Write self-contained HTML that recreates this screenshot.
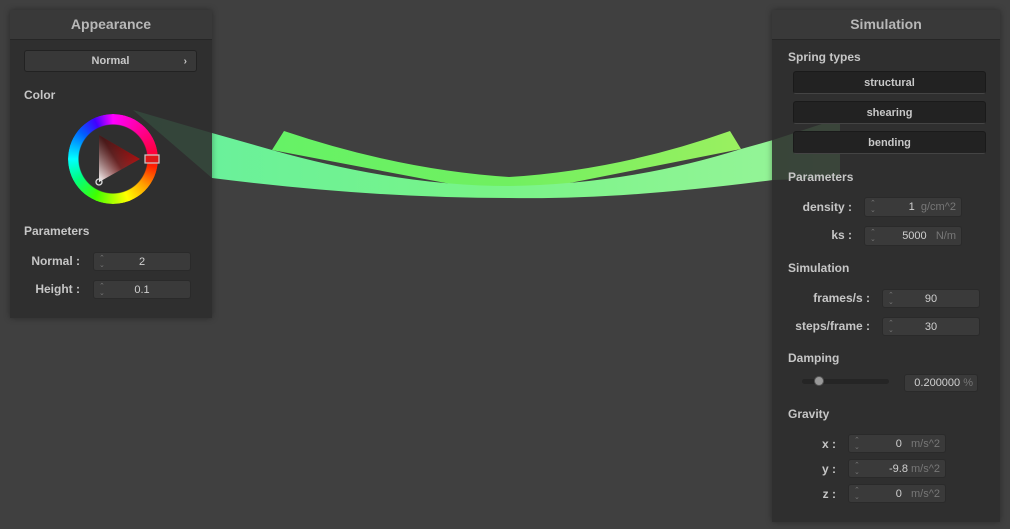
<!DOCTYPE html>
<html><head><meta charset="utf-8"><style>
body{margin:0;width:1010px;height:529px;background:#404040;overflow:hidden;position:relative;font-family:"Liberation Sans",sans-serif;font-weight:bold;color:#c8c8c8}
.panel{position:absolute;background:rgba(44,44,44,0.88);box-shadow:0 0 6px rgba(0,0,0,0.35)}
.hdr{position:absolute;left:0;right:0;top:0;height:29px;background:rgba(58,58,58,0.95);border-bottom:1px solid #262626;text-align:center;line-height:29px;font-size:14px;color:#b8b8b8;font-weight:bold}
.sec{position:absolute;font-size:12px;color:#c6c6c6}
.lbl{position:absolute;font-size:12px;text-align:right;color:#c6c6c6}
.inp{position:absolute;background:#3a3a3a;border:1px solid #2a2a2a;border-radius:3px;font-size:11px;font-weight:normal;color:#d0d0d0;box-sizing:border-box}
.inp .sp{position:absolute;left:5px;top:2px;font-size:7px;color:#777;line-height:7px}
.inp .v{position:absolute;top:0;bottom:0;display:flex;align-items:center}
.inp .u{color:#777}
.btn{position:absolute;background:#222;border:1px solid #1a1a1a;border-bottom-color:#444;border-radius:3px;text-align:center;font-size:11px;color:#c8c8c8;box-sizing:border-box}
</style></head><body>
<svg width="1010" height="529" style="position:absolute;left:0;top:0">
<defs>
<linearGradient id="gb" x1="0" x2="1" y1="0" y2="0"><stop offset="0" stop-color="#66f266"/><stop offset="0.5" stop-color="#70f060"/><stop offset="1" stop-color="#9af060"/></linearGradient>
<linearGradient id="gf" x1="0" x2="1" y1="0" y2="0"><stop offset="0" stop-color="#66f0a0"/><stop offset="0.5" stop-color="#78f488"/><stop offset="1" stop-color="#9af49a"/></linearGradient>
</defs>
<path d="M284,131 Q400,170 509,177 Q620,170 730,131 L741,149 L509,195 L272,150 Z" fill="url(#gb)"/>
<path d="M133,110 L212,133 L272,150 Q400,186 509,186 Q630,184 741,149 L773,140 L840,118 L840,178 L773,180 Q620,200 509,198 Q370,198 212,178 Z" fill="url(#gf)"/>
</svg>

<div class="panel" style="left:10px;top:10px;width:202px;height:308px">
<div class="hdr">Appearance</div>
<div class="btn" style="left:14px;top:40px;width:173px;height:22px;line-height:21px;background:#383838;border-color:#222">Normal<span style="position:absolute;right:9px;font-size:10px">›</span></div>
<div class="sec" style="left:14px;top:78px">Color</div>
<div style="position:absolute;left:58px;top:104px;width:90px;height:90px;border-radius:50%;background:conic-gradient(#ff00ff 0deg,#ff0040 80deg,#ff2000 100deg,#ffa000 130deg,#ffff00 160deg,#40ff00 205deg,#00ff80 240deg,#00ffff 270deg,#0060ff 310deg,#4000ff 335deg,#ff00ff 360deg);-webkit-mask:radial-gradient(circle,transparent 34px,#000 35px);mask:radial-gradient(circle,transparent 34px,#000 35px)"></div>
<svg style="position:absolute;left:0;top:0" width="202" height="308">
<defs><linearGradient id="tri" x1="0" y1="1" x2="1" y2="0.3"><stop offset="0" stop-color="#fff"/><stop offset="0.5" stop-color="#8a3030"/><stop offset="1" stop-color="#ff1010"/></linearGradient>
<linearGradient id="tri2" x1="0" y1="0" x2="0" y2="1"><stop offset="0" stop-color="#000" stop-opacity="0.9"/><stop offset="1" stop-color="#000" stop-opacity="0"/></linearGradient></defs>
<polygon points="89,125 130,149 89,172" fill="url(#tri)"/>
<polygon points="89,125 130,149 89,172" fill="url(#tri2)" opacity="0.6"/>
<circle cx="89" cy="172" r="3" fill="none" stroke="#ddd" stroke-width="1.3"/>
<rect x="135" y="145" width="14" height="8" fill="#e01818" stroke="#ccc" stroke-width="1.2"/>
</svg>
<div class="sec" style="left:14px;top:214px">Parameters</div>
<div class="lbl" style="left:10px;width:60px;top:244px">Normal :</div>
<div class="inp" style="left:83px;top:242px;width:98px;height:19px"><span class="sp">⌃<br>⌄</span><span class="v" style="left:0;right:0;justify-content:center">2</span></div>
<div class="lbl" style="left:10px;width:60px;top:272px">Height :</div>
<div class="inp" style="left:83px;top:270px;width:98px;height:19px"><span class="sp">⌃<br>⌄</span><span class="v" style="left:0;right:0;justify-content:center">0.1</span></div>
</div>

<div class="panel" style="left:772px;top:10px;width:228px;height:512px">
<div class="hdr">Simulation</div>
<div class="sec" style="left:16px;top:40px">Spring types</div>
<div class="btn" style="left:21px;top:61px;width:193px;height:23px;line-height:22px">structural</div>
<div class="btn" style="left:21px;top:91px;width:193px;height:23px;line-height:22px">shearing</div>
<div class="btn" style="left:21px;top:121px;width:193px;height:23px;line-height:22px">bending</div>
<div class="sec" style="left:16px;top:160px">Parameters</div>
<div class="lbl" style="left:10px;width:70px;top:190px">density :</div>
<div class="inp" style="left:92px;top:187px;width:98px;height:20px"><span class="sp">⌃<br>⌄</span><span class="v" style="right:5px">1&nbsp;&nbsp;<span class="u">g/cm^2</span></span></div>
<div class="lbl" style="left:10px;width:70px;top:218px">ks :</div>
<div class="inp" style="left:92px;top:216px;width:98px;height:20px"><span class="sp">⌃<br>⌄</span><span class="v" style="right:5px">5000&nbsp;&nbsp;&nbsp;<span class="u">N/m</span></span></div>
<div class="sec" style="left:16px;top:251px">Simulation</div>
<div class="lbl" style="left:10px;width:88px;top:281px">frames/s :</div>
<div class="inp" style="left:110px;top:279px;width:98px;height:19px"><span class="sp">⌃<br>⌄</span><span class="v" style="left:0;right:0;justify-content:center">90</span></div>
<div class="lbl" style="left:10px;width:88px;top:309px">steps/frame :</div>
<div class="inp" style="left:110px;top:307px;width:98px;height:19px"><span class="sp">⌃<br>⌄</span><span class="v" style="left:0;right:0;justify-content:center">30</span></div>
<div class="sec" style="left:16px;top:341px">Damping</div>
<div style="position:absolute;left:30px;top:369px;width:87px;height:5px;background:#252525;border-radius:3px"></div>
<div style="position:absolute;left:42px;top:366px;width:10px;height:10px;border-radius:50%;background:#999;border:1px solid #555;box-sizing:border-box"></div>
<div class="inp" style="left:132px;top:364px;width:74px;height:18px"><span class="v" style="right:4px">0.200000&nbsp;<span class="u">%</span></span></div>
<div class="sec" style="left:16px;top:397px">Gravity</div>
<div class="lbl" style="left:20px;width:44px;top:427px">x :</div>
<div class="inp" style="left:76px;top:424px;width:98px;height:19px"><span class="sp">⌃<br>⌄</span><span class="v" style="right:5px">0&nbsp;&nbsp;&nbsp;<span class="u">m/s^2</span></span></div>
<div class="lbl" style="left:20px;width:44px;top:452px">y :</div>
<div class="inp" style="left:76px;top:449px;width:98px;height:19px"><span class="sp">⌃<br>⌄</span><span class="v" style="right:5px">-9.8&nbsp;<span class="u">m/s^2</span></span></div>
<div class="lbl" style="left:20px;width:44px;top:477px">z :</div>
<div class="inp" style="left:76px;top:474px;width:98px;height:19px"><span class="sp">⌃<br>⌄</span><span class="v" style="right:5px">0&nbsp;&nbsp;&nbsp;<span class="u">m/s^2</span></span></div>
</div>
</body></html>
